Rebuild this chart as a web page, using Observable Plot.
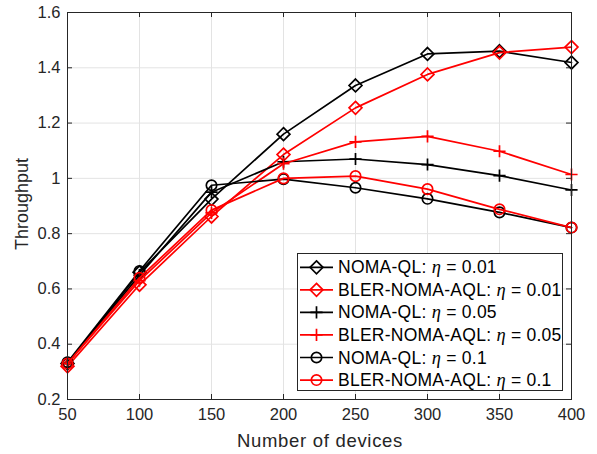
<!DOCTYPE html>
<html>
<head>
<meta charset="utf-8">
<script src="https://cdn.jsdelivr.net/npm/d3@7"></script>
<script src="https://cdn.jsdelivr.net/npm/@observablehq/plot@0.6"></script>
<style>
  html, body { margin: 0; padding: 0; background: #fff; }
  #chart { width: 597px; height: 454px; }
  svg { font-family: "Liberation Sans", Arial, Helvetica, sans-serif; }
</style>
</head>
<body>
<div id="chart"></div>
<script>
// ---- data ----
const devices = [50, 100, 150, 200, 250, 300, 350, 400];
const xTicks = [50, 100, 150, 200, 250, 300, 350, 400];
const yTicks = [0.2, 0.4, 0.6, 0.8, 1.0, 1.2, 1.4, 1.6];

const seriesNames = [
  "NOMA-QL: η = 0.01",
  "BLER-NOMA-AQL: η = 0.01",
  "NOMA-QL: η = 0.05",
  "BLER-NOMA-AQL: η = 0.05",
  "NOMA-QL: η = 0.1",
  "BLER-NOMA-AQL: η = 0.1"
];
const nomaQL_001 = [0.33, 0.660, 0.925, 1.160, 1.336, 1.450, 1.460, 1.419];
const bler_001   = [0.32, 0.615, 0.862, 1.086, 1.255, 1.376, 1.455, 1.475];
const nomaQL_005 = [0.33, 0.650, 0.950, 1.060, 1.070, 1.050, 1.010, 0.958];
const bler_005   = [0.33, 0.630, 0.875, 1.053, 1.132, 1.152, 1.098, 1.014];
const nomaQL_01  = [0.335, 0.665, 0.975, 0.997, 0.966, 0.926, 0.877, 0.822];
const bler_01    = [0.33, 0.640, 0.885, 1.000, 1.008, 0.961, 0.888, 0.822];
const seriesValues = [nomaQL_001, bler_001, nomaQL_005, bler_005, nomaQL_01, bler_01];

const seriesColors = ["#000000", "#ff0000", "#000000", "#ff0000", "#000000", "#ff0000"];
const seriesSymbols = ["diamond2", "diamond2", "plus", "plus", "circle", "circle"];
const symbolR = {diamond2: 5.8, plus: 4.0, circle: 5.2};

const rows = seriesNames.map((name, i) =>
  devices.map((d, j) => ({series: name, x: d, y: seriesValues[i][j]}))
);

// ---- layout ----
const W = 597, H = 454;
const mL = 67, mR = 26, mT = 12, mB = 55;
const fw = W - mL - mR, fh = H - mT - mB;
const axisColor = "#262626";
const gridColor = "#e3e3e3";
const tickLen = 5;

const marks = [
  Plot.gridX(xTicks, {stroke: gridColor, strokeOpacity: 1, strokeWidth: 1}),
  Plot.gridY(yTicks, {stroke: gridColor, strokeOpacity: 1, strokeWidth: 1}),
  Plot.axisX(xTicks, {anchor: "bottom", tickSize: 0, tickPadding: 9, fontSize: 16.5, fill: axisColor, label: null, tickFormat: d => String(d)}),
  Plot.axisY(yTicks, {anchor: "left", tickSize: 0, tickPadding: 7, fontSize: 16.5, fill: axisColor, label: null, tickFormat: d => String(+d.toFixed(1))}),
  // inward ticks on all four sides (MATLAB box style)
  Plot.tickX(xTicks, {x: d => d, stroke: axisColor, insetTop: fh - tickLen}),
  Plot.tickX(xTicks, {x: d => d, stroke: axisColor, insetBottom: fh - tickLen}),
  Plot.tickY(yTicks, {y: d => d, stroke: axisColor, insetRight: fw - tickLen}),
  Plot.tickY(yTicks, {y: d => d, stroke: axisColor, insetLeft: fw - tickLen}),
];
rows.forEach((data, i) => {
  marks.push(Plot.line(data, {x: "x", y: "y", stroke: seriesColors[i], strokeWidth: 1.7}));
  marks.push(Plot.dot(data, {x: "x", y: "y", stroke: seriesColors[i], fill: "none",
    symbol: () => seriesSymbols[i], r: symbolR[seriesSymbols[i]], strokeWidth: 1.7}));
});
marks.push(Plot.frame({stroke: axisColor, strokeWidth: 1}));

const chart = Plot.plot({
  width: W, height: H,
  marginLeft: mL, marginRight: mR, marginTop: mT, marginBottom: mB,
  style: {fontFamily: "'Liberation Sans', Arial, Helvetica, sans-serif", background: "#fff", overflow: "visible"},
  x: {type: "linear", domain: [50, 400]},
  y: {type: "linear", domain: [0.2, 1.6]},
  symbol: {type: "identity"},
  marks
});
document.getElementById("chart").appendChild(chart);

// ---- axis titles and legend ----
const svg = d3.select(chart);
svg.append("text")
  .attr("transform", "translate(28,204) rotate(-90)")
  .attr("text-anchor", "middle")
  .attr("font-size", 18).attr("fill", axisColor)
  .text("Throughput");
svg.append("text")
  .attr("x", 320).attr("y", 447)
  .attr("text-anchor", "middle")
  .attr("font-size", 18.5).attr("letter-spacing", 0.7).attr("fill", axisColor)
  .text("Number of devices");

const lg = svg.append("g").attr("text-anchor", "start");
lg.append("rect").attr("x", 297.5).attr("y", 253.5).attr("width", 265).attr("height", 137)
  .attr("fill", "#fff").attr("stroke", axisColor).attr("stroke-width", 1);
const rowY0 = 267.3, rowStep = 22.55;
seriesNames.forEach((name, i) => {
  const cy = rowY0 + i * rowStep;
  lg.append("line").attr("x1", 300).attr("x2", 333).attr("y1", cy).attr("y2", cy)
    .attr("stroke", seriesColors[i]).attr("stroke-width", 1.7);
  const sym = seriesSymbols[i];
  const dsym = sym === "diamond2" ? d3.symbolDiamond2 : sym === "plus" ? d3.symbolPlus : d3.symbolCircle;
  const r = symbolR[sym];
  lg.append("path").attr("d", d3.symbol(dsym, Math.PI * r * r)())
    .attr("transform", `translate(316.5,${cy})`)
    .attr("fill", "none").attr("stroke", seriesColors[i]).attr("stroke-width", 1.7);
  const [label, val] = name.split(" η = ");
  const t = lg.append("text").attr("x", 338).attr("y", cy + 6)
    .attr("text-anchor", "start")
    .attr("font-size", 17.5).attr("letter-spacing", 0.25).attr("fill", "#000");
  t.append("tspan").text(label + " ");
  t.append("tspan").attr("font-family", "'Liberation Serif', 'DejaVu Serif', serif")
    .attr("font-style", "italic").attr("font-size", 18.5).text("η");
  t.append("tspan").text(" = " + val);
});
</script>
</body>
</html>
